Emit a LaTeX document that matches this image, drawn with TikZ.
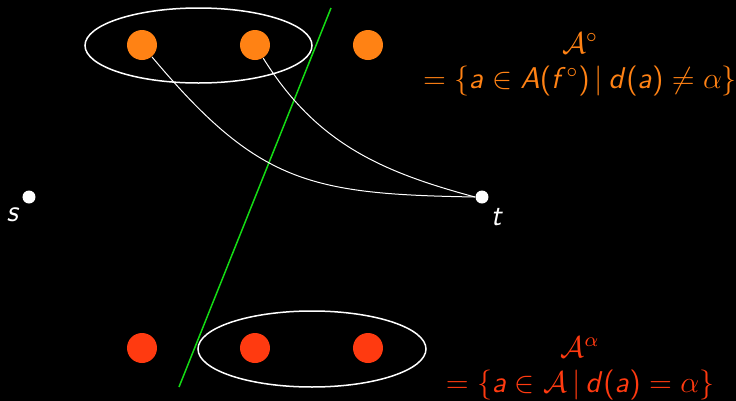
\documentclass[tikz,border=0pt]{standalone}
\usetikzlibrary{arrows.meta,calc,positioning}
% sans letters in math, as on a slide
\DeclareSymbolFont{sfslant}{OT1}{cmss}{m}{sl}
\SetSymbolFont{operators}{normal}{OT1}{cmss}{m}{n}
\DeclareMathSymbol{a}{\mathalpha}{sfslant}{`a}
\DeclareMathSymbol{d}{\mathalpha}{sfslant}{`d}
\DeclareMathSymbol{f}{\mathalpha}{sfslant}{`f}
\DeclareMathSymbol{s}{\mathalpha}{sfslant}{`s}
\DeclareMathSymbol{t}{\mathalpha}{sfslant}{`t}
\DeclareMathSymbol{A}{\mathalpha}{sfslant}{`A}
\definecolor{setorange}{RGB}{255,130,20}
\definecolor{setred}{RGB}{255,58,16}
\definecolor{cutgreen}{RGB}{20,220,20}

\begin{document}
\begin{tikzpicture}[x=0.4pt,y=-0.4pt,font=\large,
  vert/.style={circle,fill=#1,minimum size=12pt,inner sep=0pt},
  term/.style={circle,fill=white,minimum size=5.2pt,inner sep=0pt}]
  \fill[black] (0,0) rectangle (736,401);
  \useasboundingbox (0,0) rectangle (736,401);

  % vertices of the two sets
  \foreach \i/\x in {1/142,2/255,3/368}{
    \node[vert=setorange] (o\i) at (\x,45) {};
    \node[vert=setred] (r\i) at (\x,348) {};
  }

  \node[term] (s) at (29,197) {};
  \node[term] (t) at (482,197) {};
  \node[white,below left=-1pt and -2pt of s] (sl) {$s$};
  \node[white,below right=-1pt and -2pt of t] (tl) {$t$};

  \draw[white,semithick] (198.5,45.5) ellipse [x radius=45.4pt,y radius=15pt];
  \draw[white,semithick] (312,349) ellipse [x radius=45.6pt,y radius=15.2pt];

  \draw[cutgreen,semithick] (331,8) -- (179,387);

  \draw[white] (o1) to[out=-50,in=179,looseness=1.2] (t.west);
  \draw[white] (o2) to[out=-58,in=165] (t.west);

  \node[setorange,align=center] (aset) at (580,64) {$\mathcal{A}^\circ$\\$=\{a\in A(f^\circ)\,|\,d(a)\neq\alpha\}$};
  \node[setred,align=center] (bset) at (580,368) {$\mathcal{A}^\alpha$\\$=\{a\in\mathcal{A}\,|\,d(a)=\alpha\}$};
\end{tikzpicture}
\end{document}
